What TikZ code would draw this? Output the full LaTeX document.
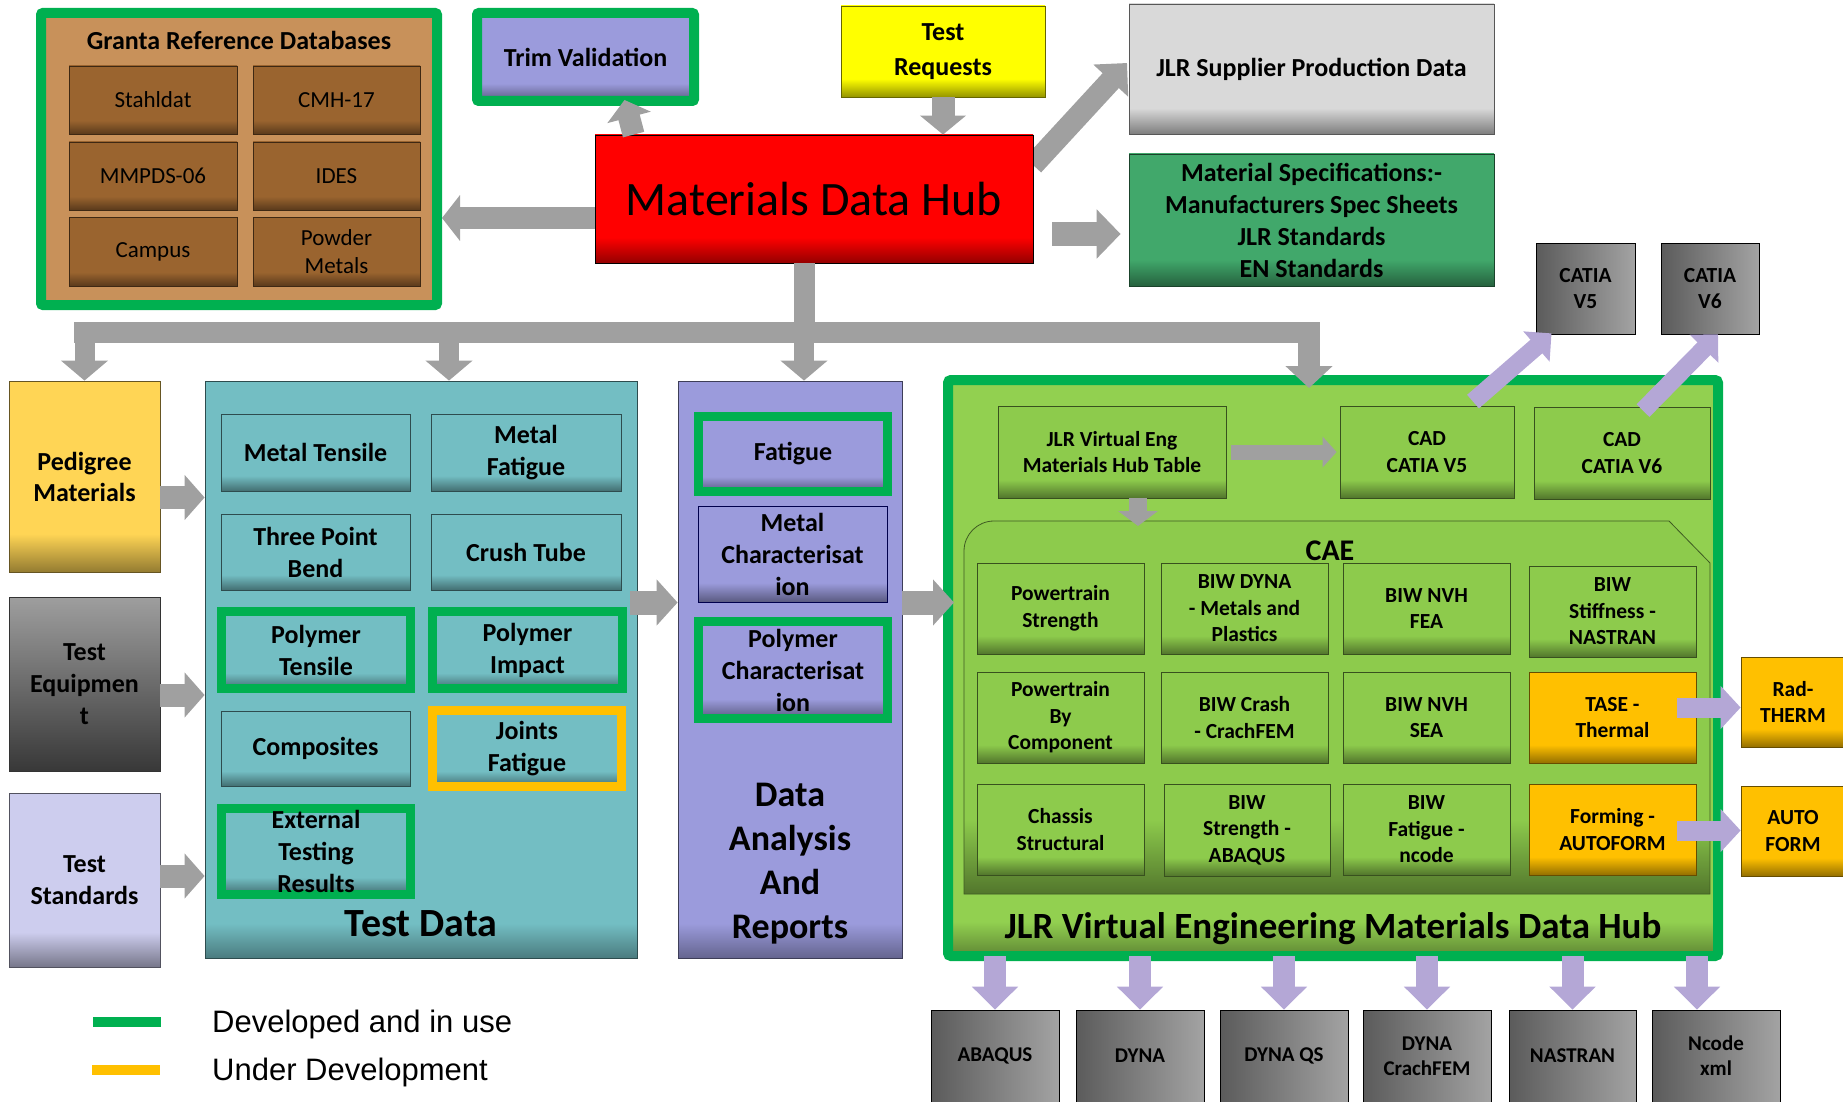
\documentclass[tikz,border=0pt]{standalone}
\usepackage{fontspec}
\setmainfont{Carlito}
\newfontfamily\legfont{Liberation Sans}
\usetikzlibrary{arrows.meta,backgrounds}
\definecolor{gborder}{HTML}{00B050}
\definecolor{orng}{HTML}{FFC000}
\definecolor{tanc}{HTML}{C8915A}
\definecolor{brn}{HTML}{9A642F}
\definecolor{lav}{HTML}{9B9BDC}
\definecolor{tealc}{HTML}{73BEC3}
\definecolor{lgreen}{HTML}{92D050}
\definecolor{cgreen}{HTML}{8DCB4C}
\definecolor{mgreen}{HTML}{41A86B}
\definecolor{ped}{HTML}{FFD555}
\definecolor{tstdc}{HTML}{CDCDEE}
\definecolor{yel}{HTML}{FFFF00}
\definecolor{hubred}{HTML}{FF0000}
\definecolor{lgray}{HTML}{D9D9D9}
\definecolor{arrgray}{HTML}{A0A0A0}
\definecolor{arrpurp}{HTML}{B4A7D6}
\definecolor{boxgray}{HTML}{8C8C8C}
\colorlet{sbase}{white}\colorlet{sdark}{black}
\pgfdeclareverticalshading[sbase,sdark]{bdark}{100bp}{color(0bp)=(sdark); color(25bp)=(sdark); color(35bp)=(sbase); color(100bp)=(sbase)}
\pgfdeclareverticalshading[sbase,sdark]{bthin}{100bp}{color(0bp)=(sdark); color(25bp)=(sdark); color(28bp)=(sbase); color(100bp)=(sbase)}
\newcommand\mkbox[7]{\node[#1, minimum width={#5-#3}, minimum height={#6-#4}] (#2) at ({(#3+#5)/2},{(#4+#6)/2}) {#7};}
\newcommand\fA{\fontsize{26}{32}\selectfont\bfseries}
\newcommand\fB{\fontsize{21.5}{26.5}\selectfont\bfseries}
\newcommand\fC{\fontsize{23}{28}\selectfont}
\newcommand\fD{\fontsize{21}{25}\selectfont\bfseries}
\tikzset{
 bd/.style={shade, shading=bdark, /utils/exec={\colorlet{sbase}{#1}\colorlet{sdark}{#1!58!black}}},
 bt/.style={shade, shading=bthin, /utils/exec={\colorlet{sbase}{#1}\colorlet{sdark}{#1!65!black}}},
 cell/.style={bd=#1, draw=#1!40!black, line width=0.8pt, align=center, inner sep=0pt, text=black},
 cont/.style={bt=#1, draw=#1!40!black, line width=0.8pt, inner sep=0pt},
 gring/.style={draw=gborder, line width=9pt},
 oring/.style={draw=orng, line width=9pt},
 graybox/.style={shade, left color=boxgray!65!black, right color=boxgray!80!white, draw=black, line width=0.8pt, align=center, inner sep=0pt},
 garr/.style n args={3}{draw=arrgray, line width=#1, -{Triangle[width=#2,length=#3]}},
 parr/.style n args={3}{draw=arrpurp, line width=#1, -{Triangle[width=#2,length=#3]}},
 gshaft/.style={draw=arrgray, line width=21pt},
}
\begin{document}
\begin{tikzpicture}[x=1pt,y=-1pt]
\path[use as bounding box] (0,0) rectangle (1843,1102);
\clip (0,0) rectangle (1843,1102);
% ---------- Granta
\mkbox{fill=tanc, draw=gborder, line width=10pt, rounded corners=2pt, inner sep=0pt}{granta}{41}{13}{437}{305}{}
\node[font=\fA] (gtitle) at (239,40) {Granta Reference Databases};
\mkbox{cell=brn, font=\fC}{stahl}{69}{66}{237}{134}{Stahldat}
\mkbox{cell=brn, font=\fC}{cmh}{253}{66}{420}{134}{CMH-17}
\mkbox{cell=brn, font=\fC}{mmpds}{69}{142}{237}{210}{MMPDS-06}
\mkbox{cell=brn, font=\fC}{ides}{253}{142}{420}{210}{IDES}
\mkbox{cell=brn, font=\fC}{campus}{69}{217}{237}{286}{Campus}
\mkbox{cell=brn, font=\fC}{powder}{253}{217}{420}{286}{Powder\\Metals}
% ---------- top row
\mkbox{cell=lav, gring, line width=10pt, rounded corners=2pt, font=\fA}{trim}{477}{13}{694}{101}{Trim Validation}
\mkbox{cell=yel, font=\fontsize{26}{35}\selectfont\bfseries}{treq}{841}{6}{1045}{97}{Test\\Requests}
\mkbox{cell=lgray, font=\fA}{supplier}{1129}{4}{1494}{134}{JLR Supplier Production Data}
\mkbox{cell=mgreen, font=\fA}{mspec}{1129}{154}{1494}{286}{Material Specifications:-\\Manufacturers Spec Sheets\\JLR Standards\\EN Standards}
\begin{pgfonlayer}{background}
\draw[garr={22pt}{46pt}{24pt}] (1033,165) -- (1127,63);
\end{pgfonlayer}
\mkbox{cell=hubred, draw=black, font=\fontsize{48}{57}\selectfont}{hub}{595}{135}{1033}{263}{Materials Data Hub}
\mkbox{graybox, font=\fB}{catia5}{1536}{243}{1635}{334}{CATIA\\V5}
\mkbox{graybox, font=\fB}{catia6}{1661}{243}{1759}{334}{CATIA\\V6}
% ---------- left column
\mkbox{cell=ped, font=\fontsize{26}{31}\selectfont\bfseries}{ped}{9}{381}{160}{572}{Pedigree\\Materials}
\mkbox{shade, top color=black!38, bottom color=black!78, draw=black!80, line width=0.8pt, align=center, inner sep=0pt, font=\fA}{equip}{9}{597}{160}{771}{Test\\Equipmen\\t}
\mkbox{cell=tstdc, font=\fA}{tstd}{9}{793}{160}{967}{Test\\Standards}
% ---------- Test Data
\mkbox{cont=tealc}{tdata}{205}{381}{637}{958}{}
\node[font=\fontsize{40}{48}\selectfont\bfseries, anchor=base, inner sep=0pt] (tdlabel) at (421,936) {Test Data};
\mkbox{cell=tealc, font=\fA}{mtens}{221}{414}{410}{491}{Metal Tensile}
\mkbox{cell=tealc, font=\fA}{mfat}{431}{414}{621}{491}{Metal\\Fatigue}
\mkbox{cell=tealc, font=\fA}{tpb}{221}{514}{410}{590}{Three Point\\Bend}
\mkbox{cell=tealc, font=\fA}{crush}{431}{514}{621}{590}{Crush Tube}
\mkbox{cell=tealc, gring, font=\fA}{ptens}{221.5}{611.5}{410.5}{688.5}{Polymer\\Tensile}
\mkbox{cell=tealc, gring, font=\fA}{pimp}{432.5}{611.5}{622.5}{688.5}{Polymer\\Impact}
\mkbox{cell=tealc, font=\fA}{comp}{221}{711}{410}{786}{Composites}
\mkbox{cell=tealc, oring, font=\fA}{joints}{432.5}{710.5}{621.5}{786.5}{Joints\\Fatigue}
\mkbox{cell=tealc, gring, font=\fA}{ext}{221.5}{808.5}{410.5}{894.5}{External\\Testing\\Results}
% ---------- Data analysis
\mkbox{cont=lav}{da}{678}{381}{902}{958}{}
\node[font=\fontsize{36}{44}\selectfont\bfseries, align=center, anchor=north, inner sep=0pt] (dalabel) at (790,783) {Data\\Analysis\\And\\Reports};
\mkbox{cell=lav, gring, font=\fA}{fatigue}{698.5}{416.5}{887.5}{491.5}{Fatigue}
\mkbox{cell=lav, draw=blue!30!black, font=\fA}{mchar}{698}{506}{887}{602}{Metal\\Characterisat\\ion}
\mkbox{cell=lav, gring, font=\fA}{pchar}{698.5}{621.5}{887.5}{718.5}{Polymer\\Characterisat\\ion}
% ---------- VE hub
\mkbox{cont=lgreen, draw=gborder, line width=10pt, rounded corners=3pt}{ve}{948}{380}{1718}{956}{}
\node[font=\fontsize{37}{44}\selectfont\bfseries, anchor=base, inner sep=0pt] (velabel) at (1333,938) {JLR Virtual Engineering Materials Data Hub};
\mkbox{cell=cgreen, font=\fB}{jlrve}{998}{406}{1226}{498}{JLR Virtual Eng\\Materials Hub Table}
\mkbox{cell=cgreen, font=\fB}{cadv5}{1340}{406}{1514}{498}{CAD\\CATIA V5}
\mkbox{cell=cgreen, font=\fB}{cadv6}{1534}{407}{1710}{499}{CAD\\CATIA V6}
\path[bd=cgreen, draw=cgreen!45!black, line width=0.8pt] (964,894) -- (964,551) arc[start angle=180,end angle=270,radius=30] -- (1669,521) -- (1710,563) -- (1710,894) -- cycle;
\coordinate (caetop) at (1330,521);
\node[font=\fontsize{30}{36}\selectfont\bfseries, anchor=base, inner sep=0pt] (caelabel) at (1330,560) {CAE};
\mkbox{cell=cgreen, font=\fB}{pts}{977}{563}{1144}{654}{Powertrain\\Strength}
\mkbox{cell=cgreen, font=\fB}{dyna}{1161}{563}{1328}{654}{BIW DYNA\\- Metals and\\Plastics}
\mkbox{cell=cgreen, font=\fB}{nvhfea}{1343}{563}{1510}{654}{BIW NVH\\FEA}
\mkbox{cell=cgreen, font=\fB}{stiff}{1529}{566}{1696}{657}{BIW\\Stiffness -\\NASTRAN}
\mkbox{cell=cgreen, font=\fB}{pbc}{977}{672}{1144}{763}{Powertrain\\By\\Component}
\mkbox{cell=cgreen, font=\fB}{crash}{1161}{672}{1328}{763}{BIW Crash\\- CrachFEM}
\mkbox{cell=cgreen, font=\fB}{nvhsea}{1343}{672}{1510}{763}{BIW NVH\\SEA}
\mkbox{cell=orng, font=\fB}{tase}{1529}{672}{1696}{763}{TASE -\\Thermal}
\mkbox{cell=cgreen, font=\fB}{chassis}{977}{784}{1144}{875}{Chassis\\Structural}
\mkbox{cell=cgreen, font=\fB}{bstr}{1164}{784}{1330}{876}{BIW\\Strength -\\ABAQUS}
\mkbox{cell=cgreen, font=\fB}{bfat}{1343}{784}{1510}{875}{BIW\\Fatigue -\\ncode}
\mkbox{cell=orng, font=\fB}{forming}{1529}{784}{1696}{875}{Forming -\\AUTOFORM}
\mkbox{cell=orng, font=\fB}{rad}{1741}{657}{1845}{747}{Rad-\\THERM}
\mkbox{cell=orng, font=\fB}{autoform}{1741}{786}{1845}{876}{AUTO\\FORM}
% ---------- bottom outputs
\mkbox{graybox, font=\fD}{abaqus}{931}{1010}{1059}{1102}{ABAQUS}
\mkbox{graybox, font=\fD}{dynab}{1076}{1010}{1204}{1102}{DYNA}
\mkbox{graybox, font=\fD}{dynaqs}{1220}{1010}{1348}{1102}{DYNA QS}
\mkbox{graybox, font=\fD}{dynacf}{1363}{1010}{1491}{1102}{DYNA\\CrachFEM}
\mkbox{graybox, font=\fD}{nastran}{1509}{1010}{1636}{1102}{NASTRAN}
\mkbox{graybox, font=\fD}{ncode}{1652}{1010}{1780}{1102}{Ncode\\xml}
% ---------- legend
\node[fill=gborder, minimum width=68, minimum height=10, inner sep=0pt] (legg) at (127,1022) {};
\node[fill=orng, minimum width=68, minimum height=10, inner sep=0pt] (lego) at (126,1070) {};
\node[font=\legfont\fontsize{31}{36}\selectfont, anchor=base west, inner sep=0pt] (leggt) at (212,1032) {Developed and in use};
\node[font=\legfont\fontsize{31}{36}\selectfont, anchor=base west, inner sep=0pt] (legot) at (212,1080) {Under Development};
% ---------- gray arrows
\draw[garr={22pt}{44pt}{18pt}] ([xshift=39pt]hub.north west) -- ([xshift=39pt,yshift=6pt]trim.south);
\draw[garr={23pt}{45pt}{19pt}] (treq.south) -- (treq.south |- hub.north);
\draw[garr={22pt}{45pt}{18pt}] ([yshift=-19pt]hub.west) -- ([yshift=-19pt]hub.west -| granta.east);
\coordinate (ms) at ([xshift=19pt,yshift=-35pt]hub.east);
\draw[garr={24pt}{48pt}{24pt}] (ms) -- ([xshift=-8pt]ms -| mspec.west);
\coordinate (busL) at (74,332);
\coordinate (busR) at (1320,332);
\draw[gshaft] ([xshift=-10pt]hub.south) -- ([xshift=-10pt]hub.south |- busR);
\draw[gshaft] (busL) -- (busR);
\coordinate (a1) at (ped.north);
\coordinate (a2) at ([xshift=28pt]tdata.north);
\coordinate (a3) at ([xshift=14pt]da.north);
\coordinate (a4) at ([xshift=-24pt,yshift=-13pt]ve.north);
\draw[garr={20pt}{46pt}{20pt}] (a1 |- busL) -- (a1);
\draw[garr={20pt}{46pt}{20pt}] (a2 |- busL) -- (a2);
\draw[garr={20pt}{46pt}{20pt}] (a3 |- busL) -- (a3);
\draw[garr={22pt}{46pt}{22pt}] (a4 |- busL) -- (a4);
\coordinate (l1) at ([yshift=-21pt]ped.east);
\coordinate (l2) at ([yshift=-11pt]equip.east);
\coordinate (l3) at ([yshift=4pt]tstd.east);
\draw[garr={23pt}{44pt}{20pt}] (l1) -- (l1 -| tdata.west);
\draw[garr={23pt}{44pt}{20pt}] (l2) -- (l2 -| tdata.west);
\draw[garr={23pt}{44pt}{20pt}] (l3) -- (l3 -| tdata.west);
\coordinate (td) at ([xshift=-7pt,yshift=67pt]tdata.east);
\draw[garr={24pt}{45pt}{21pt}] (td) -- (td -| da.west);
\coordinate (dv) at ([yshift=67pt]da.east);
\draw[garr={24pt}{45pt}{21pt}, shorten >=-11pt] (dv) -- (dv -| ve.west);
\draw[garr={15pt}{30pt}{14pt}] ([xshift=5pt]jlrve.east) -- ([xshift=-3pt]cadv5.west);
\coordinate (q) at ([xshift=26pt]jlrve.south);
\draw[garr={18pt}{39pt}{15pt}, shorten >=-5pt] (q) -- (q |- caetop);
% ---------- purple arrows
\draw[parr={18pt}{39pt}{20pt}] ([xshift=46pt,yshift=4pt]cadv5.north) -- ([xshift=-34pt,yshift=1pt]catia5.south);
\draw[parr={18pt}{39pt}{20pt}] ([xshift=21pt,yshift=-4pt]cadv6.north) -- ([xshift=8pt]catia6.south);
\coordinate (t1) at ([xshift=-19pt,yshift=10pt]tase.east);
\coordinate (f1) at ([xshift=-19pt,yshift=-1pt]forming.east);
\draw[parr={20pt}{42pt}{20pt}] (t1) -- (t1 -| rad.west);
\draw[parr={20pt}{42pt}{20pt}] (f1) -- (f1 -| autoform.west);
\coordinate (n1) at ([xshift=-19pt]ncode.north);
\foreach \b in {abaqus,dynab,dynaqs,dynacf,nastran}{
 \draw[parr={22pt}{45pt}{23pt}, shorten <=-5pt] (\b.north |- ve.south) -- (\b.north);
}
\draw[parr={22pt}{45pt}{23pt}, shorten <=-5pt] (n1 |- ve.south) -- (n1);
\end{tikzpicture}
\end{document}
